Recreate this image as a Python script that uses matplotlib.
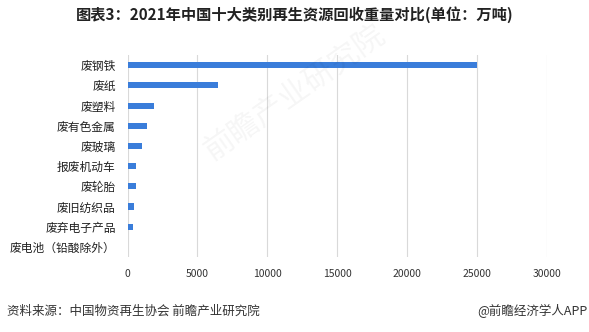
import matplotlib.pyplot as plt
import numpy as np

plt.rcParams['font.family'] = ['Noto Sans CJK SC', 'DejaVu Sans']

# 2021年中国十大类别再生资源回收重量（万吨）
categories = ['废钢铁', '废纸', '废塑料', '废有色金属', '废玻璃',
              '报废机动车', '废轮胎', '废旧纺织品', '废弃电子产品', '废电池（铅酸除外）']
values = [25000, 6491, 1900, 1386, 1025, 640, 640, 475, 419, 30]
xticks = [0, 5000, 10000, 15000, 20000, 25000, 30000]

fig = plt.figure(figsize=(5.89, 3.32), dpi=100)
ax = fig.add_axes([0.2165, 0.226, 0.7118, 0.608])

y = np.arange(len(categories))
ax.barh(y, values, height=0.3, color='#3a7dda', zorder=3)
ax.set_yticks(y)
ax.set_yticklabels(categories, fontsize=8.5, color='#222222')
ax.set_ylim(len(categories) - 0.5, -0.5)
ax.set_xlim(0, 30000)
ax.set_xticks(xticks)
ax.set_xticklabels([str(t) for t in xticks], fontsize=7.5, color='#333333')
ax.tick_params(axis='both', length=0)
ax.tick_params(axis='x', pad=9)
ax.tick_params(axis='y', pad=8.5)
ax.grid(axis='x', color='#d9d9d9', linewidth=0.8, zorder=0)
for s in ax.spines.values():
    s.set_visible(False)

# 水印
fig.text(0.5, 0.72, '前瞻产业研究院', fontsize=22, color='#000000', alpha=0.04,
         rotation=35, ha='center', va='center')

fig.text(0.5, 0.955, '图表3：2021年中国十大类别再生资源回收重量对比(单位：万吨)',
         fontsize=11, fontweight='bold', color='#222222', ha='center', va='center')
fig.text(0.012, 0.062, '资料来源：中国物资再生协会 前瞻产业研究院',
         fontsize=9, color='#333333', ha='left', va='center')
fig.text(0.998, 0.062, '@前瞻经济学人APP',
         fontsize=9, color='#333333', ha='right', va='center')

fig.savefig('out.png', dpi=100)
